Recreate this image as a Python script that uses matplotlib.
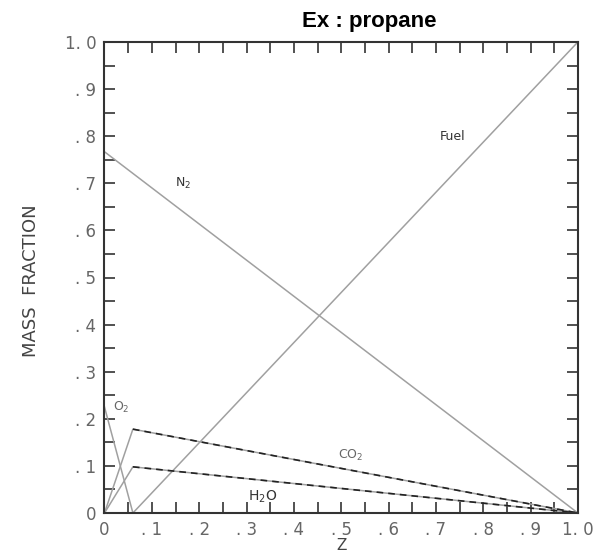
import matplotlib
matplotlib.use("Agg")
import matplotlib.pyplot as plt
import numpy as np

# Data (Burke-Schumann solution, propane)
z_st = 0.06
n2_z = [0.0, 1.0]
n2_y = [0.767, 0.0]
fuel_z = [0.0, 0.06, 1.0]
fuel_y = [0.0, 0.0, 1.0]
o2_z = [0.0, 0.06]
o2_y = [0.225, 0.0]
co2_z = [0.0, 0.06, 1.0]
co2_y = [0.0, 0.178, 0.0]
h2o_z = [0.0, 0.06, 1.0]
h2o_y = [0.0, 0.098, 0.0]

xticks = [0, .1, .2, .3, .4, .5, .6, .7, .8, .9, 1.0]
xticklabels = ["0", ". 1", ". 2", ". 3", ". 4", ". 5", ". 6", ". 7", ". 8", ". 9", "1. 0"]
yticks = xticks
yticklabels = ["0", ". 1", ". 2", ". 3", ". 4", ". 5", ". 6", ". 7", ". 8", ". 9", "1. 0"]

fig = plt.figure(figsize=(6.03, 5.55), dpi=100)
ax = fig.add_axes([0.1733, 0.0757, 0.785, 0.8486])

gray = "#a0a0a0"
lw = 1.1
ax.plot(n2_z, n2_y, color=gray, lw=lw)
ax.plot(fuel_z, fuel_y, color=gray, lw=lw)
ax.plot(o2_z, o2_y, color=gray, lw=lw)
ax.plot(co2_z, co2_y, color=gray, lw=lw)
ax.plot(h2o_z, h2o_y, color=gray, lw=lw)
# dark broken overlay on rich side
ax.plot(co2_z[1:], co2_y[1:], color="#222222", lw=1.2, dashes=(4, 3))
ax.plot(h2o_z[1:], h2o_y[1:], color="#222222", lw=1.2, dashes=(4, 3))

ax.set_xlim(0, 1)
ax.set_ylim(0, 1)
ax.set_xticks(xticks)
ax.set_xticklabels(xticklabels)
ax.set_yticks(yticks)
ax.set_yticklabels(yticklabels)
ax.set_xticks(np.arange(0.05, 1.0, 0.1), minor=True)
ax.set_yticks(np.arange(0.05, 1.0, 0.1), minor=True)
ax.tick_params(which="both", direction="in", top=True, right=True, length=8, width=1.2,
               color="#333333", labelcolor="#666666", labelsize=12, pad=6)
for s in ax.spines.values():
    s.set_linewidth(1.5)
    s.set_color("#333333")

tc = "#333333"
ax.text(0.166, 0.70, "N$_2$", fontsize=9, color=tc, ha="center", va="center")
ax.text(0.735, 0.80, "Fuel", fontsize=9, color=tc, ha="center", va="center")
ax.text(0.035, 0.225, "O$_2$", fontsize=9, color="#666666", ha="center", va="center")
ax.text(0.52, 0.123, "CO$_2$", fontsize=9, color="#666666", ha="center", va="center")
ax.text(0.335, 0.035, "H$_2$O", fontsize=10, color=tc, ha="center", va="center")

fig.text(0.052, 0.494, "MASS  FRACTION", rotation=90, fontsize=13, color="#444444",
         ha="center", va="center")
fig.text(0.566, 0.003, "Z", fontsize=11, color="#444444", ha="center", va="bottom")
fig.text(0.613, 0.962, "Ex : propane", fontsize=16, fontweight="bold", family="Liberation Sans",
         ha="center", va="center")

fig.savefig("out.png", dpi=100)
